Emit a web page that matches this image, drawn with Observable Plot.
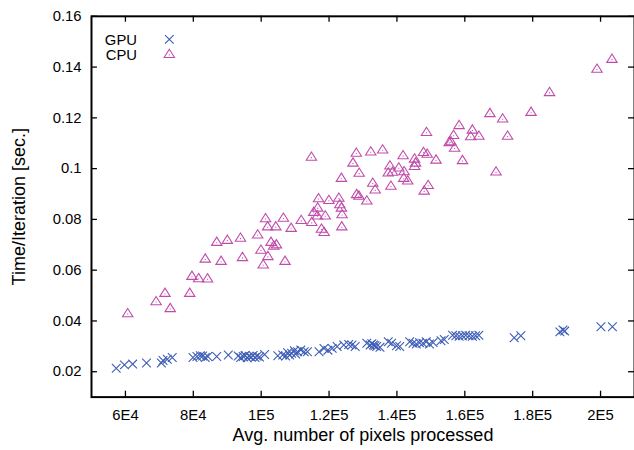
<!DOCTYPE html>
<html><head><meta charset="utf-8">
<script src="https://cdn.jsdelivr.net/npm/d3@7"></script>
<script src="https://cdn.jsdelivr.net/npm/@observablehq/plot@0.6"></script>
<style>html,body{margin:0;padding:0;overflow:hidden;background:#fff}</style>
</head><body><div id="chart"></div>
<script>
const seriesNames = ["GPU", "CPU"];
const gpuX = [57290,59710,62130,66210,70580,71080,72330,73790,79910,81070,82070,82740,83520,84280,86900,90310,93230,93960,94690,95270,95860,96440,97020,97610,98190,98770,99500,101010,104890,106350,107220,107800,108390,108970,109760,110140,110720,111680,112670,113630,117050,118500,119670,120920,122380,124330,125790,126750,127710,131120,132090,132600,133080,133500,134040,135000,137450,138410,139870,140830,143750,144740,145700,146660,147650,148620,149590,150660,152990,153950,156400,157360,158320,159310,160270,161240,162230,163190,164150,174560,176510,188010,188930,189430,200120,203500];
const gpuY = [0.0214,0.0227,0.0230,0.0234,0.0234,0.0244,0.0249,0.0256,0.0256,0.0260,0.0263,0.0262,0.0256,0.0260,0.0260,0.0266,0.0262,0.0256,0.0260,0.0264,0.0255,0.0261,0.0258,0.0264,0.0256,0.0261,0.0258,0.0268,0.0263,0.0266,0.0262,0.0275,0.0266,0.0273,0.0283,0.0270,0.0279,0.0286,0.0279,0.0279,0.0279,0.0292,0.0285,0.0292,0.0299,0.0305,0.0307,0.0305,0.0299,0.0312,0.0305,0.0310,0.0305,0.0302,0.0299,0.0296,0.0318,0.0312,0.0302,0.0299,0.0318,0.0312,0.0309,0.0314,0.0312,0.0318,0.0309,0.0315,0.0322,0.0327,0.0344,0.0342,0.0340,0.0342,0.0344,0.0342,0.0340,0.0342,0.0344,0.0334,0.0342,0.0357,0.0364,0.0360,0.0377,0.0377];
const cpuX = [60670,69040,71660,73200,78950,79600,81570,84190,83520,86900,88190,90020,93900,94480,98970,99930,100600,101980,101300,101900,102900,103700,104500,104300,106550,107030,108830,111800,114900,114800,116900,115500,116650,116550,118880,119960,122880,123170,123640,123840,117760,118560,123750,123640,128030,132290,127050,128880,132880,133600,128120,128800,131120,135790,141820,145200,147830,148910,145500,145200,151520,137940,140550,137450,138700,142110,142000,143160,138230,149200,148030,148710,156690,158320,162230,161730,164160,155410,155900,156990,159320,167400,171150,172610,169200,179520,184970,198950,203360];
const cpuY = [0.0431,0.0478,0.0511,0.0451,0.0511,0.0578,0.0569,0.0568,0.0646,0.0712,0.0637,0.0720,0.0728,0.0652,0.0741,0.0681,0.0623,0.0656,0.0805,0.0773,0.0712,0.0697,0.0702,0.0773,0.0807,0.0637,0.0767,0.0798,0.0790,0.1047,0.0884,0.0830,0.0847,0.0816,0.0816,0.0877,0.0886,0.0860,0.0847,0.0821,0.0764,0.0751,0.0773,0.0964,0.1063,0.1068,0.1024,0.0984,0.0945,0.0918,0.0900,0.0894,0.0875,0.1076,0.1053,0.1040,0.1066,0.1059,0.1024,0.1011,0.1036,0.1013,0.1005,0.0985,0.0988,0.0990,0.0964,0.0954,0.0933,0.0936,0.0914,0.1145,0.1133,0.1172,0.1154,0.1128,0.1130,0.1105,0.1108,0.1083,0.1034,0.1219,0.1198,0.1130,0.0989,0.1224,0.1302,0.1394,0.1433];
const xTicks = [60000, 80000, 100000, 120000, 140000, 160000, 180000, 200000];
const xTickLabels = ["6E4", "8E4", "1E5", "1.2E5", "1.4E5", "1.6E5", "1.8E5", "2E5"];
const yTicks = [0.02, 0.04, 0.06, 0.08, 0.10, 0.12, 0.14, 0.16];
const yTickLabels = ["0.02", "0.04", "0.06", "0.08", "0.1", "0.12", "0.14", "0.16"];
const xDomain = [50000, 210000];
const yDomain = [0.01, 0.16];
const xTitle = "Avg. number of pixels processed";
const yTitle = "Time/Iteration [sec.]";

const gpu = gpuX.map((x, i) => ({x, y: gpuY[i]}));
const cpu = cpuX.map((x, i) => ({x, y: cpuY[i]}));

const BLUE = "#3d5cb6", MAG = "#c04caa";
const W = 641, H = 450, ML = 92, MR = 0, MT = 16, MB = 49;
const PW = W - ML - MR, PH = H - MT - MB;

const crossSym = {draw(ctx, size) {
  const r = Math.sqrt(size / Math.PI);
  ctx.moveTo(-r, -r); ctx.lineTo(r, r);
  ctx.moveTo(-r, r); ctx.lineTo(r, -r);
}};
const triSym = {draw(ctx, size) {
  const r = Math.sqrt(size / Math.PI);
  ctx.moveTo(0, -r); ctx.lineTo(1.12 * r, 0.78 * r); ctx.lineTo(-1.12 * r, 0.78 * r); ctx.closePath();
  ctx.moveTo(-0.5, 0.2 * r); ctx.lineTo(0.5, 0.2 * r);
}};

const fmtX = d => xTickLabels[xTicks.indexOf(d)];
const fmtY = d => yTickLabels[yTicks.indexOf(d)];

const chart = Plot.plot({
  width: W, height: H,
  marginLeft: ML, marginRight: MR, marginTop: MT, marginBottom: MB,
  style: {fontFamily: "'Liberation Sans', Arial, Helvetica, sans-serif", fontSize: "15px", background: "#fff", color: "#000"},
  x: {domain: xDomain, axis: null},
  y: {domain: yDomain, axis: null},
  marks: [
    Plot.dot(cpu, {x: "x", y: "y", symbol: triSym, r: 4.7, fill: "none", stroke: MAG, strokeWidth: 1.1}),
    Plot.dot(gpu, {x: "x", y: "y", symbol: crossSym, r: 4.4, fill: "none", stroke: BLUE, strokeWidth: 1.1}),
    Plot.frame({stroke: "#000", strokeWidth: 2}),
    Plot.tickX(xTicks, {x: d => d, insetTop: PH - 6, stroke: "#000", strokeWidth: 1.3}),
    Plot.tickX(xTicks, {x: d => d, insetBottom: PH - 6, stroke: "#000", strokeWidth: 1.3}),
    Plot.tickY(yTicks, {y: d => d, insetRight: PW - 6, stroke: "#000", strokeWidth: 1.3}),
    Plot.tickY(yTicks, {y: d => d, insetLeft: PW - 6, stroke: "#000", strokeWidth: 1.3}),
    Plot.axisX(xTicks, {tickSize: 0, tickPadding: 12, tickFormat: fmtX, fontSize: 15, label: null}),
    Plot.axisY(yTicks, {tickSize: 0, tickPadding: 10, tickFormat: fmtY, fontSize: 15, label: null}),
    Plot.text([xTitle], {text: d => d, frameAnchor: "bottom", dy: 38.5, fontSize: 18.2, lineAnchor: "middle", textAnchor: "middle"}),
    Plot.text([yTitle], {text: d => d, frameAnchor: "left", dx: -73, rotate: -90, fontSize: 18.2, lineAnchor: "middle", textAnchor: "middle"}),
    Plot.text([seriesNames[0]], {text: d => d, frameAnchor: "top-left", dx: 46, dy: 24, textAnchor: "end", lineAnchor: "middle", fontSize: 15}),
    Plot.text([seriesNames[1]], {text: d => d, frameAnchor: "top-left", dx: 46, dy: 39, textAnchor: "end", lineAnchor: "middle", fontSize: 15}),
    Plot.dot([seriesNames[0]], {frameAnchor: "top-left", dx: 78.7, dy: 23.3, symbol: crossSym, r: 4.4, fill: "none", stroke: BLUE, strokeWidth: 1.1}),
    Plot.dot([seriesNames[1]], {frameAnchor: "top-left", dx: 78.7, dy: 38, symbol: triSym, r: 4.7, fill: "none", stroke: MAG, strokeWidth: 1.1})
  ]
});
document.getElementById("chart").appendChild(chart);
</script>
</body></html>
